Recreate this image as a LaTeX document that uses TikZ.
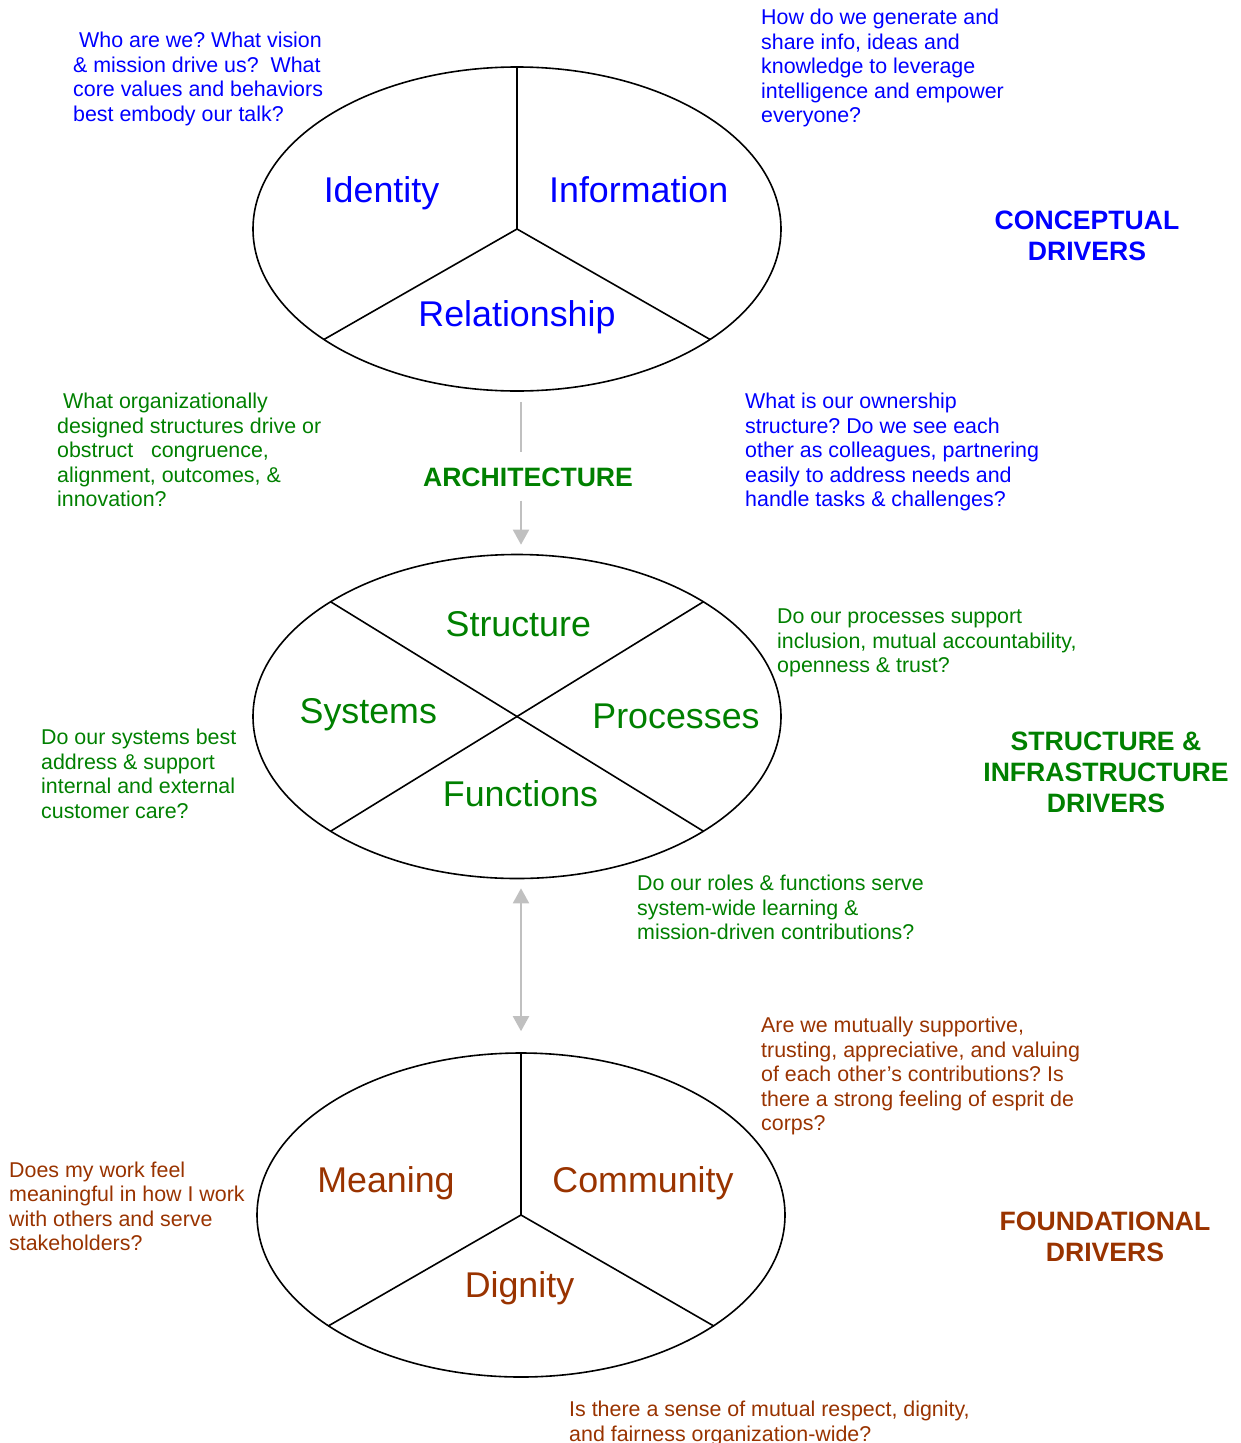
\documentclass[tikz,border=0pt]{standalone}
\usepackage{fontspec}
\setmainfont{Liberation Sans}
\usetikzlibrary{shapes.geometric,arrows.meta,calc}

\definecolor{qblue}{RGB}{0,0,255}
\definecolor{qgreen}{RGB}{0,128,0}
\definecolor{qbrown}{RGB}{153,51,0}
\definecolor{linkgray}{RGB}{192,192,192}

\tikzset{
  drv/.style={draw, ellipse, line width=1.6pt, minimum width=528pt, minimum height=324pt, inner sep=0pt},
  cut/.style={line width=1.6pt},
  ask/.style={anchor=north west, align=left, inner sep=0pt, font=\fontsize{21.4}{24.5}\selectfont},
  part/.style={anchor=base, inner sep=0pt, font=\fontsize{35.8}{40}\selectfont},
  head/.style={anchor=north, align=center, inner sep=0pt, font=\fontsize{26.6}{31}\selectfont\bfseries},
  link/.style={draw=linkgray, line width=2pt},
  tip/.style={-{Triangle[width=16pt,length=15pt]}},
  tips/.style={{Triangle[width=16pt,length=15pt]}-{Triangle[width=16pt,length=15pt]}}
}

\frenchspacing

\begin{document}
\begin{tikzpicture}[x=1pt, y=-1pt]

\useasboundingbox (0,0) rectangle (1241,1443);

\node[drv] (idn) at (517,229) {};
\node[drv] (arc) at (517,716.5) {};
\node[drv] (fnd) at (521,1215) {};

\draw[cut] (idn.center) -- (idn.north);
\draw[cut] (idn.center) -- ($(idn.center)+(223:264pt and 162pt)$);
\draw[cut] (idn.center) -- ($(idn.center)+(317:264pt and 162pt)$);

\draw[cut] ($(arc.center)+(135:264pt and 162.5pt)$) -- ($(arc.center)+(315:264pt and 162.5pt)$);
\draw[cut] ($(arc.center)+(45:264pt and 162.5pt)$) -- ($(arc.center)+(225:264pt and 162.5pt)$);

\draw[cut] (fnd.center) -- (fnd.north);
\draw[cut] (fnd.center) -- ($(fnd.center)+(223:264pt and 163pt)$);
\draw[cut] (fnd.center) -- ($(fnd.center)+(317:264pt and 163pt)$);

\node[part, text=qblue] (pidn) at (381.5,202) {Identity};
\node[part, text=qblue] (pinf) at (638.7,202) {Information};
\node[part, text=qblue] (prel) at (517,326) {Relationship};

\node[part, text=qgreen] (pstr) at (518.3,636) {Structure};
\node[part, text=qgreen] (psys) at (368.3,723) {Systems};
\node[part, text=qgreen] (ppro) at (676,728) {Processes};
\node[part, text=qgreen] (pfun) at (520.5,806) {Functions};

\node[part, text=qbrown] (pmea) at (386,1192) {Meaning};
\node[part, text=qbrown] (pcom) at (643,1192) {Community};
\node[part, text=qbrown] (pdig) at (519.5,1297) {Dignity};

\node[head, text=qblue] (hcon) at (1087,210.5) {CONCEPTUAL\\DRIVERS};
\node[head, text=qgreen, inner ysep=16pt] (arch) at (528,451.5) {ARCHITECTURE};
\node[head, text=qgreen] (hstr) at (1106,731.5) {STRUCTURE \&\\INFRASTRUCTURE\\DRIVERS};
\node[head, text=qbrown] (hfnd) at (1105,1212) {FOUNDATIONAL\\DRIVERS};

\node[ask, text=qblue] (qidn) at (73,32) {\hspace*{6pt}Who are we? What vision\\\& mission drive us?\ \ What\\core values and behaviors\\best embody our talk?};
\node[ask, text=qblue] (qinf) at (761,9) {How do we generate and\\share info, ideas and\\knowledge to leverage\\intelligence and empower\\everyone?};
\node[ask, text=qgreen] (qarc) at (57,393) {\hspace*{6pt}What organizationally\\designed structures drive or\\obstruct\ \ \ congruence,\\alignment, outcomes, \&\\innovation?};
\node[ask, text=qblue] (qrel) at (745,393) {What is our ownership\\structure? Do we see each\\other as colleagues, partnering\\easily to address needs and\\handle tasks \& challenges?};
\node[ask, text=qgreen] (qpro) at (777,609) {Do our processes support\\inclusion, mutual accountability,\\openness \& trust?};
\node[ask, text=qgreen] (qsys) at (41,729) {Do our systems best\\address \& support\\internal and external\\customer care?};
\node[ask, text=qgreen] (qfun) at (637,875) {Do our roles \& functions serve\\system-wide learning \&\\mission-driven contributions?};
\node[ask, text=qbrown] (qcom) at (761,1017) {Are we mutually supportive,\\trusting, appreciative, and valuing\\of each other’s contributions? Is\\there a strong feeling of esprit de\\corps?};
\node[ask, text=qbrown] (qmea) at (9,1161.3) {Does my work feel\\meaningful in how I work\\with others and serve\\stakeholders?};
\node[ask, text=qbrown] (qdig) at (569,1401) {Is there a sense of mutual respect, dignity,\\and fairness organization-wide?};

\draw[link, shorten <=10pt] (idn.south -| fnd.center) -- (arch.north -| fnd.center);
\draw[link, tip, shorten <=-2pt, shorten >=9pt] (arch.south -| fnd.center) -- (arc.north -| fnd.center);
\draw[link, tips, shorten <=9pt, shorten >=21pt] (arc.south -| fnd.center) -- (fnd.north);

\end{tikzpicture}
\end{document}
